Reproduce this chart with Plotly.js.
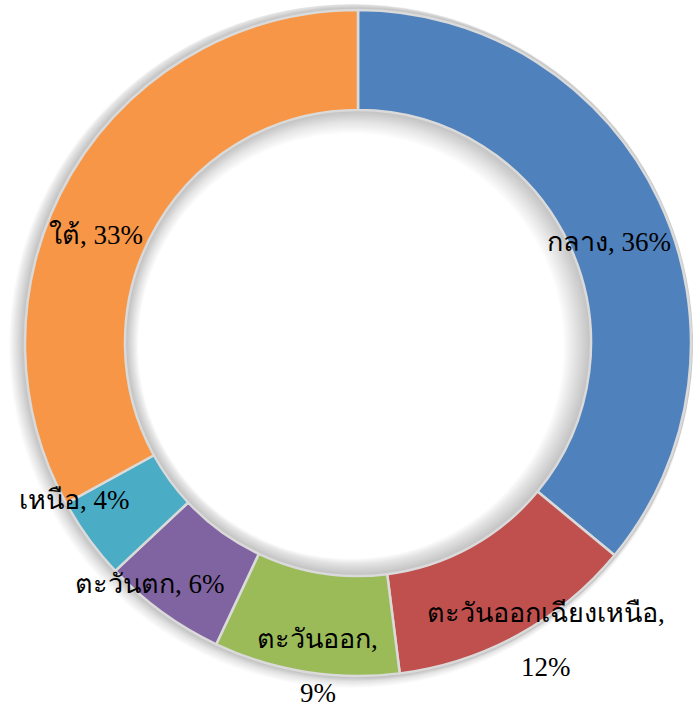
<!DOCTYPE html>
<html>
<head>
<meta charset="utf-8">
<script src="https://cdn.plot.ly/plotly-3.0.1.min.js"></script>
<style>
  html, body { margin: 0; padding: 0; background: #fff; }
  #plot { width: 693px; height: 709px; }
</style>
</head>
<body>
<div id="plot"></div>
<script>
const regions = ['กลาง', 'ตะวันออกเฉียงเหนือ', 'ตะวันออก', 'ตะวันตก', 'เหนือ', 'ใต้'];
const shares = [36, 12, 9, 6, 4, 33];
const colors = ['#4F81BD', '#C0504D', '#9BBB59', '#8064A2', '#4BACC6', '#F79646'];

// label tweaks (px) from the ring middle, and where the text breaks
const labelShift = [[-5, 19], [52, 22], [4, 16], [-42, 12], [-55, -9], [-18, 36]];
const labelWrap = [false, true, true, false, false, false];

const W = 693, H = 709;
const cx = 358, cy = 343, rOut = 333, rIn = 233;
const labelFont = {family: 'Liberation Serif, Times New Roman, serif', size: 27, color: '#000'};

function domainFor(r){
    return {
        x: [(cx - r) / W, (cx + r) / W],
        y: [1 - (cy + r) / H, 1 - (cy - r) / H]
    };
}

let traces = [];
// soft shadow around the ring, one faint band per pixel
for(let k = 16; k >= 1; k--){
    traces.push({
        type: 'pie',
        values: [1],
        labels: ['s' + k],
        domain: domainFor(rOut + k),
        hole: (rIn - k) / (rOut + k),
        marker: {colors: ['rgba(0,0,0,0.016)'], line: {width: 0}},
        textinfo: 'none',
        hoverinfo: 'skip',
        showlegend: false,
        sort: false
    });
}

traces.push({
    type: 'pie',
    values: shares,
    labels: regions,
    domain: domainFor(rOut),
    hole: rIn / rOut,
    sort: false,
    direction: 'clockwise',
    rotation: 0,
    marker: {colors, line: {color: '#dadada', width: 2.5}},
    textinfo: 'none',
    hoverinfo: 'label+percent',
    showlegend: false
});

let total = shares.reduce((a, b) => a + b, 0);
let annotations = [];
let acc = 0;
let rMid = (rOut + rIn) / 2;
for(let i = 0; i < shares.length; i++){
    let mid = (acc + shares[i] / 2) / total * 2 * Math.PI;
    acc += shares[i];
    let px = cx + rMid * Math.sin(mid) + labelShift[i][0];
    let py = cy - rMid * Math.cos(mid) + labelShift[i][1];
    let pct = Math.round(shares[i] / total * 100) + '%';
    let lines = labelWrap[i] ? [regions[i] + ',', pct] : [regions[i] + ', ' + pct];
    lines.forEach((t, j) => {
        annotations.push({
            x: px / W, y: 1 - (py + j * 54) / H,
            xref: 'paper', yref: 'paper',
            text: t, showarrow: false,
            xanchor: 'center', yanchor: 'middle',
            font: labelFont
        });
    });
}

let layout = {
    width: W,
    height: H,
    margin: {l: 0, r: 0, t: 0, b: 0},
    paper_bgcolor: '#fff',
    showlegend: false,
    annotations
};

Plotly.newPlot('plot', traces, layout, {displayModeBar: false});
</script>
</body>
</html>
